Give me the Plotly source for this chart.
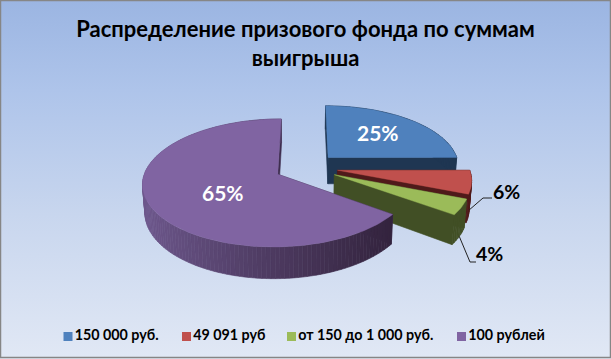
import math
import plotly.graph_objects as go

W, H = 611, 359

# --- data ---
categories = ["150 000 руб.", "49 091 руб", "от 150 до 1 000 руб.", "100 рублей"]
shares = [25, 6, 4, 65]
title_text = "Распределение призового фонда по суммам<br>выигрыша"

# --- styles ---
top_colors = ["#4F81BD", "#C0504D", "#9BBB59", "#8064A2"]
wall_colors = ["#1F3652", "#4F1A1A", "#414F25", "#3E2D4F"]
FONT = "Lato"

# projection of the tilted pie plane onto the chart
CX, CY, A, B = 306.3, 167.5, 131.5, 61.0
K = 0.134
EXPLODE = 0.24
DEPTH = 27.0
SHRINK = 0.985


def project(px, pz, bottom=False):
    w = 1 - K * pz
    s = SHRINK if bottom else 1.0
    return CX + s * A * px / w, CY + B * pz / w + (DEPTH / w if bottom else 0)


def slice_outline(a0, a1):
    mid = (a0 + a1) / 2
    ex, ez = EXPLODE * math.sin(mid), -EXPLODE * math.cos(mid)
    n = max(4, int((a1 - a0) / 0.03))
    arc = [(ex + math.sin(a0 + (a1 - a0) * i / n), ez - math.cos(a0 + (a1 - a0) * i / n)) for i in range(n + 1)]
    return (ex, ez), arc


def mix(c1, c2, t):
    a = [int(c1[i:i + 2], 16) for i in (1, 3, 5)]
    b = [int(c2[i:i + 2], 16) for i in (1, 3, 5)]
    return "rgb(%d,%d,%d)" % tuple(round(a[i] + (b[i] - a[i]) * t) for i in range(3))


def poly(xs, ys, color, lw=0.6):
    return go.Scatter(x=xs, y=ys, mode="lines", fill="toself", fillcolor=color,
                      line=dict(color=color, width=lw), hoverinfo="skip", showlegend=False)


fig = go.Figure()

# background gradient
fig.add_trace(go.Scatter(
    x=[0, W, W, 0, 0], y=[0, 0, H, H, 0], mode="lines", fill="toself",
    line=dict(width=0), hoverinfo="skip", showlegend=False,
    fillgradient=dict(type="vertical", colorscale=[[0, "#E1E8F5"], [0.4, "#C8D6EE"], [0.75, "#AEC4EA"], [1, "#9BB5E2"]]),
))

total = sum(shares)
start = 0.0
arcs = []
for i, v in enumerate(shares):
    a0, a1 = start, start + 2 * math.pi * v / total
    start = a1
    apex, arc = slice_outline(a0, a1)
    arcs.append((a0, a1, apex, arc))
    outline = [apex] + arc + [apex]
    # radial walls
    for p, q in ((apex, arc[0]), (arc[-1], apex)):
        t1, t2, b2, b1 = project(*p), project(*q), project(*q, True), project(*p, True)
        fig.add_trace(poly([t1[0], t2[0], b2[0], b1[0], t1[0]], [t1[1], t2[1], b2[1], b1[1], t1[1]], wall_colors[i]))
    # outer wall; purple is shaded across its width
    for j in range(len(arc) - 1):
        p, q = arc[j], arc[j + 1]
        t1, t2, b2, b1 = project(*p), project(*q), project(*q, True), project(*p, True)
        if i == 3:
            f = max(0.0, min(1.0, (t1[0] - 145) / 250))
            col = mix("#6D578C", "#33233D", f ** 0.9)
        else:
            col = wall_colors[i]
        fig.add_trace(poly([t1[0], t2[0], b2[0], b1[0], t1[0]], [t1[1], t2[1], b2[1], b1[1], t1[1]], col))
    # top face
    pts = [project(*p) for p in outline]
    fig.add_trace(poly([p[0] for p in pts], [p[1] for p in pts], top_colors[i], 0.4))

# data labels
label_pos = [(378, 132, "white", 21), (506, 191, "black", 19.5), (489, 253, "black", 19.5), (223, 192, "white", 21)]
for v, (x, y, c, size) in zip(shares, label_pos):
    fig.add_annotation(x=x, y=y, text=f"{v}%", showarrow=False,
                       font=dict(family=FONT, size=size, color=c, weight="bold"))

# leader lines
leaders = [(1, (483, 198), (492, 198)), (2, (470, 262), (476, 262))]
for idx, elbow, end in leaders:
    a0, a1, apex, arc = arcs[idx]
    s = project(*arc[len(arc) // 2], True)
    fig.add_trace(go.Scatter(x=[s[0], elbow[0], end[0]], y=[s[1], elbow[1], end[1]], mode="lines",
                             line=dict(color="#222222", width=1), hoverinfo="skip", showlegend=False))

# legend
legend_x = [68, 186.5, 291.5, 461.5]
for i, name in enumerate(categories):
    fig.add_trace(go.Scatter(
        x=[legend_x[i]], y=[336.5], mode="markers+text", text=[name], textposition="middle right",
        marker=dict(symbol="square", size=9, color=top_colors[i]),
        textfont=dict(family=FONT, size=14.3, color="black", weight="bold"),
        hoverinfo="skip", showlegend=False,
    ))

fig.update_layout(
    width=W, height=H, margin=dict(l=0, r=0, t=0, b=0),
    paper_bgcolor="white", plot_bgcolor="rgba(0,0,0,0)", showlegend=False,
    title=dict(text=title_text, x=0.5, xanchor="center", y=0.897, yanchor="top",
               font=dict(family=FONT, size=22, color="black", weight="bold")),
    xaxis=dict(range=[0, W], visible=False, fixedrange=True),
    yaxis=dict(range=[H, 0], visible=False, fixedrange=True),
    shapes=[dict(type="rect", xref="x", yref="y", x0=0.5, y0=0.5, x1=W - 0.5, y1=H - 1.5,
                 line=dict(color="#868686", width=1.5))],
)
fig.write_html("out.html", config=dict(displayModeBar=False),
               post_script="document.documentElement.style.margin='0';document.body.style.margin='0';document.body.style.overflow='hidden';")
